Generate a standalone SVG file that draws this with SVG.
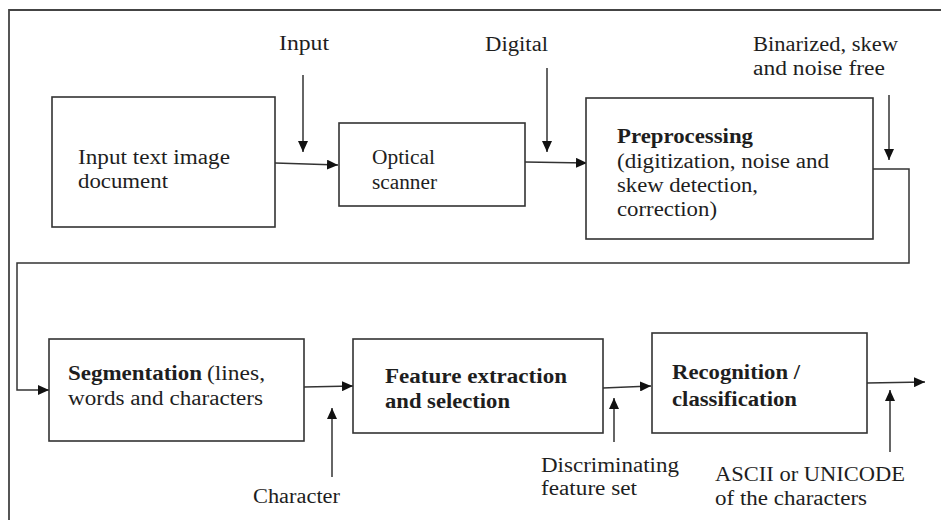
<svg xmlns="http://www.w3.org/2000/svg" width="941" height="520" viewBox="0 0 941 520">
<style>
.box{fill:#fff;stroke:#333;stroke-width:1.6}
.ln{fill:none;stroke:#333;stroke-width:1.5}
.fr{fill:none;stroke:#444;stroke-width:1.8}
.t text{font-size:20px;fill:#1e1e1e}
.b{font-weight:bold}
</style>
<defs>
<marker id="ah" markerUnits="userSpaceOnUse" markerWidth="12" markerHeight="10" refX="11" refY="5" orient="auto">
<path d="M0,0 L11,5 L0,10 Z" fill="#111"/>
</marker>
</defs>
<rect width="941" height="520" fill="#fff"/>
<path class="fr" d="M9,520 V10 H941"/>

<g id="connectors">
<line class="ln" x1="303" y1="75" x2="303" y2="152" marker-end="url(#ah)"/>
<line class="ln" x1="275" y1="163" x2="338" y2="165" marker-end="url(#ah)"/>
<line class="ln" x1="547" y1="68" x2="547" y2="152" marker-end="url(#ah)"/>
<line class="ln" x1="525" y1="162" x2="587" y2="163" marker-end="url(#ah)"/>
<line class="ln" x1="889" y1="95" x2="889" y2="160" marker-end="url(#ah)"/>
<path class="ln" d="M873,169 H909 V263 H17 V390 H49" marker-end="url(#ah)"/>
<line class="ln" x1="304" y1="387" x2="353" y2="386" marker-end="url(#ah)"/>
<line class="ln" x1="332" y1="477" x2="332" y2="408" marker-end="url(#ah)"/>
<line class="ln" x1="603" y1="388" x2="651" y2="386" marker-end="url(#ah)"/>
<line class="ln" x1="614" y1="442" x2="614" y2="398" marker-end="url(#ah)"/>
<line class="ln" x1="867" y1="383" x2="925" y2="382" marker-end="url(#ah)"/>
<line class="ln" x1="890" y1="452" x2="890" y2="390" marker-end="url(#ah)"/>
</g>

<g class="t" font-family="Liberation Serif, DejaVu Serif, Times New Roman, serif">
<g id="labels">
<text x="279" y="50" textLength="50" lengthAdjust="spacingAndGlyphs">Input</text>
<text x="485" y="51" textLength="63" lengthAdjust="spacingAndGlyphs">Digital</text>
<text x="753" y="51" textLength="145" lengthAdjust="spacingAndGlyphs">Binarized, skew</text>
<text x="753" y="75" textLength="132" lengthAdjust="spacingAndGlyphs">and noise free</text>
<text x="253" y="503" textLength="87" lengthAdjust="spacingAndGlyphs">Character</text>
<text x="541" y="472" textLength="138" lengthAdjust="spacingAndGlyphs">Discriminating</text>
<text x="541" y="495" textLength="96" lengthAdjust="spacingAndGlyphs">feature set</text>
<text x="715" y="481" textLength="190" lengthAdjust="spacingAndGlyphs">ASCII or UNICODE</text>
<text x="715" y="505" textLength="152" lengthAdjust="spacingAndGlyphs">of the characters</text>
</g>

<g id="input-doc">
<rect class="box" x="52" y="97" width="223" height="130"/>
<text x="78" y="164" textLength="152" lengthAdjust="spacingAndGlyphs">Input text image</text>
<text x="78" y="188" textLength="90" lengthAdjust="spacingAndGlyphs">document</text>
</g>

<g id="scanner">
<rect class="box" x="339" y="123" width="186" height="83"/>
<text x="372" y="164" textLength="63" lengthAdjust="spacingAndGlyphs">Optical</text>
<text x="372" y="189" textLength="65" lengthAdjust="spacingAndGlyphs">scanner</text>
</g>

<g id="preprocessing">
<rect class="box" x="586" y="98" width="287" height="141"/>
<text class="b" x="617" y="143" textLength="136" lengthAdjust="spacingAndGlyphs">Preprocessing</text>
<text x="617" y="168" textLength="212" lengthAdjust="spacingAndGlyphs">(digitization, noise and</text>
<text x="617" y="192" textLength="141" lengthAdjust="spacingAndGlyphs">skew detection,</text>
<text x="617" y="216" textLength="100" lengthAdjust="spacingAndGlyphs">correction)</text>
</g>

<g id="segmentation">
<rect class="box" x="49" y="339" width="255" height="102"/>
<text class="b" x="68" y="380" textLength="134" lengthAdjust="spacingAndGlyphs">Segmentation</text>
<text x="207" y="380" textLength="58" lengthAdjust="spacingAndGlyphs">(lines,</text>
<text x="68" y="405" textLength="195" lengthAdjust="spacingAndGlyphs">words and characters</text>
</g>

<g id="feature">
<rect class="box" x="353" y="339" width="250" height="94"/>
<text class="b" x="385" y="383" textLength="182" lengthAdjust="spacingAndGlyphs">Feature extraction</text>
<text class="b" x="385" y="408" textLength="125" lengthAdjust="spacingAndGlyphs">and selection</text>
</g>

<g id="recognition">
<rect class="box" x="652" y="333" width="215" height="100"/>
<text class="b" x="672" y="379" textLength="128" lengthAdjust="spacingAndGlyphs">Recognition /</text>
<text class="b" x="672" y="406" textLength="125" lengthAdjust="spacingAndGlyphs">classification</text>
</g>
</g>
</svg>
